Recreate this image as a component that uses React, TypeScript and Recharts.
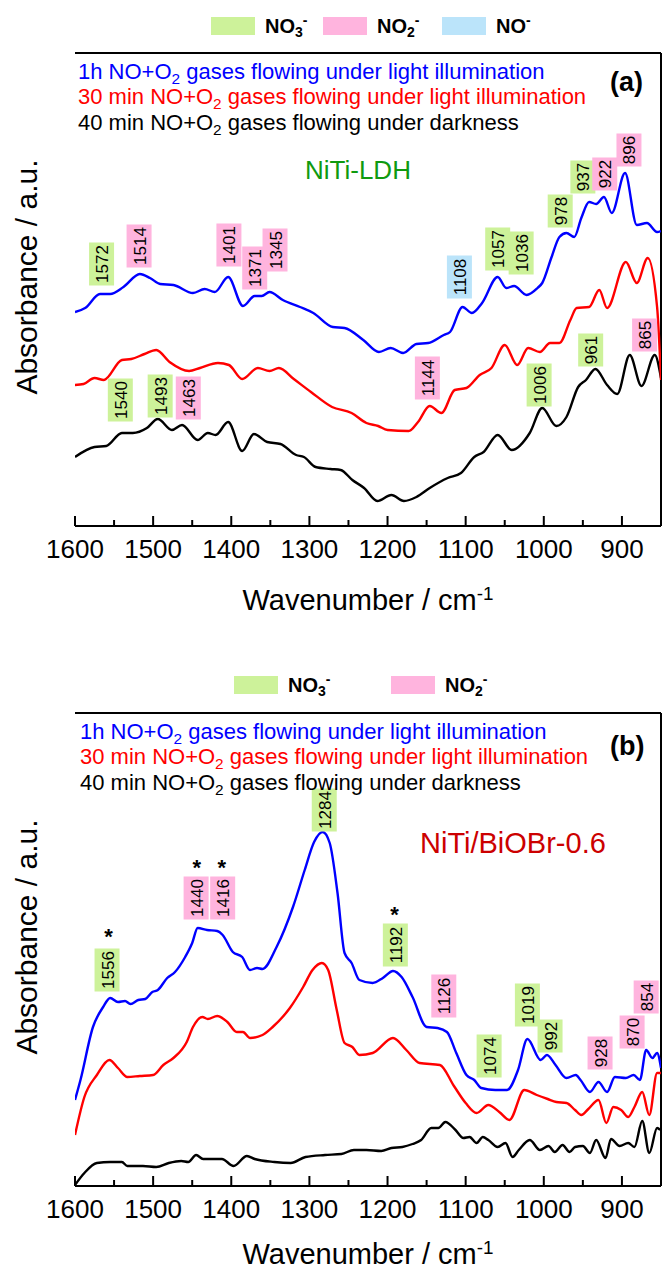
import { ComposedChart, Line, Scatter, XAxis, YAxis, ReferenceLine } from 'recharts'

const FONT = '"Liberation Sans", Arial, Helvetica, sans-serif'

// x axis ticks (major every 100, minor every 50)
const xTicks = [1600, 1550, 1500, 1450, 1400, 1350, 1300, 1250, 1200, 1150, 1100, 1050, 1000, 950, 900, 850]

// panel (a) NiTi-LDH spectra: [wavenumber, absorbance a.u.]
const aBlue = [
  [1600, 214], [1587, 218], [1568, 232], [1555, 232], [1538, 239], [1517, 252], [1504, 248], [1491, 242],
  [1474, 241], [1449, 233], [1434, 237], [1421, 234], [1404, 249], [1385, 220], [1370, 230], [1361, 230],
  [1351, 234], [1334, 226], [1312, 219], [1295, 213], [1270, 199], [1255, 198], [1231, 186], [1211, 174],
  [1196, 178], [1180, 173], [1163, 182], [1148, 183], [1128, 191], [1120, 194], [1104, 219], [1092, 213],
  [1079, 223], [1059, 249], [1048, 238], [1038, 240], [1022, 231], [1008, 238], [1002, 243], [990, 269],
  [980, 289], [971, 293], [961, 289], [952, 308], [942, 324], [933, 322], [923, 329], [913, 313],
  [896, 353], [881, 301], [868, 303], [855, 294], [850, 295],
]
const aRed = [
  [1600, 141], [1589, 142], [1575, 148], [1563, 146], [1540, 166], [1528, 167], [1511, 172], [1496, 176],
  [1479, 164], [1454, 155], [1440, 158], [1417, 163], [1403, 161], [1386, 147], [1366, 158], [1351, 155],
  [1339, 158], [1320, 147], [1298, 134], [1271, 119], [1246, 113], [1227, 103], [1212, 100], [1200, 96],
  [1173, 95], [1161, 104], [1146, 120], [1131, 113], [1114, 136], [1099, 138], [1082, 151], [1067, 158],
  [1050, 181], [1034, 161], [1020, 178], [1005, 174], [992, 183], [980, 183], [966, 206], [958, 218],
  [942, 219], [929, 236], [919, 218], [895, 264], [881, 243], [867, 268], [855, 219], [850, 146],
]
const aBlack = [
  [1600, 69], [1575, 79], [1560, 80], [1540, 93], [1526, 93], [1508, 98], [1494, 107], [1476, 96],
  [1463, 101], [1443, 86], [1430, 93], [1420, 91], [1404, 104], [1386, 75], [1371, 92], [1354, 84],
  [1337, 82], [1317, 71], [1307, 69], [1292, 59], [1273, 57], [1260, 56], [1245, 46], [1230, 38],
  [1213, 25], [1195, 31], [1179, 25], [1163, 29], [1146, 38], [1123, 48], [1106, 53], [1089, 69],
  [1077, 74], [1059, 91], [1041, 76], [1018, 93], [1002, 118], [984, 100], [971, 109], [956, 139],
  [946, 146], [934, 157], [919, 141], [906, 132], [890, 171], [875, 140], [858, 171], [850, 148],
]

// panel (b) NiTi/BiOBr-0.6 spectra
const bBlue = [
  [1600, 86], [1593, 106], [1577, 159], [1564, 179], [1555, 188], [1545, 184], [1536, 185], [1529, 182],
  [1519, 186], [1510, 187], [1501, 194], [1494, 196], [1482, 208], [1472, 214], [1459, 229], [1450, 243],
  [1443, 258], [1431, 256], [1418, 255], [1411, 251], [1398, 234], [1386, 229], [1376, 216], [1367, 218],
  [1360, 217], [1342, 239], [1321, 279], [1306, 316], [1294, 344], [1283, 354], [1274, 343], [1264, 293],
  [1255, 233], [1246, 223], [1236, 206], [1219, 203], [1206, 208], [1193, 215], [1182, 209], [1168, 189],
  [1150, 159], [1136, 158], [1124, 154], [1112, 133], [1099, 111], [1089, 106], [1080, 98], [1062, 96],
  [1047, 96], [1033, 116], [1021, 147], [1004, 126], [996, 131], [985, 121], [971, 108], [959, 111],
  [953, 106], [941, 94], [930, 104], [919, 94], [909, 109], [895, 108], [885, 111], [877, 106],
  [869, 136], [861, 128], [855, 133], [850, 118],
]
const bRed = [
  [1600, 51], [1588, 89], [1572, 111], [1556, 126], [1545, 118], [1533, 109], [1517, 110], [1500, 111],
  [1487, 121], [1474, 128], [1457, 144], [1449, 159], [1437, 169], [1430, 167], [1418, 170], [1405, 164],
  [1393, 154], [1385, 154], [1376, 148], [1360, 151], [1347, 159], [1325, 178], [1308, 199], [1296, 216],
  [1284, 223], [1276, 216], [1265, 176], [1255, 143], [1245, 139], [1236, 131], [1219, 133], [1193, 148],
  [1176, 136], [1159, 123], [1133, 121], [1115, 100], [1100, 83], [1086, 73], [1071, 81], [1057, 74],
  [1044, 66], [1025, 96], [1009, 91], [995, 87], [984, 84], [971, 83], [960, 76], [952, 71],
  [943, 77], [930, 86], [920, 63], [911, 79], [901, 76], [892, 69], [884, 79], [874, 94],
  [865, 71], [855, 113], [850, 113],
]
const bBlack = [
  [1600, 1], [1588, 13], [1572, 23], [1555, 24], [1540, 24], [1533, 20], [1513, 20], [1496, 19],
  [1480, 23], [1464, 25], [1455, 24], [1445, 31], [1436, 27], [1412, 27], [1397, 20], [1380, 30],
  [1370, 27], [1345, 24], [1324, 23], [1305, 29], [1280, 31], [1259, 32], [1243, 36], [1227, 36],
  [1208, 35], [1195, 38], [1181, 39], [1168, 42], [1157, 46], [1144, 58], [1135, 58], [1126, 64],
  [1113, 56], [1103, 48], [1095, 49], [1086, 43], [1078, 49], [1071, 46], [1059, 39], [1049, 43],
  [1040, 29], [1032, 36], [1018, 46], [1005, 36], [994, 40], [986, 34], [976, 41], [967, 34],
  [960, 39], [950, 40], [941, 33], [933, 46], [921, 28], [914, 47], [903, 40], [892, 43],
  [884, 39], [874, 65], [865, 33], [855, 58], [851, 56],
]

// peak assignment boxes: [wavenumber, a.u., label, species]
const aLabels = [
  [1566, 262, '1572', 'n3'], [1518, 280, '1514', 'n2'], [1403, 281, '1401', 'n2'], [1370, 258, '1371', 'n2'],
  [1344, 276, '1345', 'n2'], [1108, 249, '1108', 'no'], [1059, 277, '1057', 'n3'], [1029, 273, '1036', 'n3'],
  [979, 315, '978', 'n3'], [950, 349, '937', 'n3'], [922, 352, '922', 'n2'], [891, 376, '896', 'n2'],
  [1542, 126, '1540', 'n3'], [1491, 130, '1493', 'n3'], [1455, 128, '1463', 'n2'], [1149, 148, '1144', 'n2'],
  [1006, 141, '1006', 'n3'], [940, 176, '961', 'n3'], [871, 191, '865', 'n2'],
]
const bLabels = [
  [1559, 216, '1556', 'n3'], [1445, 288, '1440', 'n2'], [1411, 288, '1416', 'n2'], [1281, 376, '1284', 'n3'],
  [1190, 241, '1192', 'n3'], [1128, 190, '1126', 'n2'], [1070, 130, '1074', 'n3'], [1021, 181, '1019', 'n3'],
  [992, 150, '992', 'n3'], [928, 133, '928', 'n2'], [887, 154, '870', 'n2'], [869, 189, '854', 'n2'],
]
const bStars = [[1557, 255], [1444, 324], [1412, 324], [1191, 277]]

const BOX: Record<string, string> = { n3: '#cdf29a', n2: '#ffb4de', no: '#bbe4fa' }

const toPts = (arr: number[][]) => arr.map(([w, v]) => ({ w, v }))
const toLabels = (arr: any[][]) => arr.map(([w, v, t, k]) => ({ w, v, t, k }))

function XTick(props: any) {
  const { x, y, payload } = props
  const major = payload.value % 100 === 0
  return (
    <g>
      <line x1={x} x2={x} y1={y} y2={y - (major ? 10 : 6)} stroke="#000" strokeWidth={2} />
      {major && payload.value !== 850 && (
        <text x={x} y={y + 32} textAnchor="middle" fontSize={26} fill="#000">{payload.value}</text>
      )}
    </g>
  )
}

function LabelBox(props: any) {
  const { cx, cy, payload } = props
  const t = String(payload.t)
  const h = t.length === 4 ? 43 : 33
  const w = 25
  return (
    <g>
      <rect x={cx - w / 2} y={cy - h / 2} width={w} height={h} fill={BOX[payload.k]} />
      <text transform={`translate(${cx + 6.5},${cy}) rotate(-90)`} textAnchor="middle" fontSize={17} fill="#000">{t}</text>
    </g>
  )
}

function Star(props: any) {
  const { cx, cy } = props
  return <text x={cx} y={cy + 13} textAnchor="middle" fontSize={22} fontWeight="bold" fill="#000">*</text>
}

function Panel({ top, height, plotTop, plotBottom, blue, red, black, labels, stars }: any) {
  return (
    <div style={{ position: 'absolute', left: 0, top }}>
      <ComposedChart
        width={662}
        height={height}
        margin={{ top: plotTop - top, right: 1, left: 75, bottom: top + height - plotBottom - 40 }}
      >
        <XAxis
          dataKey="w" type="number" domain={[850, 1600]} reversed allowDataOverflow
          ticks={xTicks} interval={0} tickSize={0} tickMargin={0} tickLine={false}
          tick={XTick} height={40} axisLine={{ stroke: '#000', strokeWidth: 2 }}
        />
        <YAxis
          dataKey="v" type="number" domain={[0, 473]} allowDataOverflow width={0}
          tick={false} tickLine={false} axisLine={{ stroke: '#000', strokeWidth: 2 }}
        />
        <ReferenceLine y={473} stroke="#000" strokeWidth={2} />
        <ReferenceLine x={850} stroke="#000" strokeWidth={2} />
        <Line data={toPts(black)} dataKey="v" type="monotone" stroke="#000000" strokeWidth={2.4} dot={false} isAnimationActive={false} />
        <Line data={toPts(red)} dataKey="v" type="monotone" stroke="#ff0000" strokeWidth={2.4} dot={false} isAnimationActive={false} />
        <Line data={toPts(blue)} dataKey="v" type="monotone" stroke="#0000ff" strokeWidth={2.4} dot={false} isAnimationActive={false} />
        <Scatter data={toLabels(labels)} dataKey="v" shape={LabelBox} isAnimationActive={false} />
        {stars && <Scatter data={toPts(stars)} dataKey="v" shape={Star} isAnimationActive={false} />}
      </ComposedChart>
    </div>
  )
}

function Sub({ children }: any) {
  return <tspan baselineShift="-30%" fontSize="70%">{children}</tspan>
}

function Conditions({ x, y }: { x: number; y: number }) {
  return (
    <g fontSize={22}>
      <text x={x} y={y} fill="#0000ff">1h NO+O<Sub>2</Sub> gases flowing under light illumination</text>
      <text x={x} y={y + 25} fill="#ff0000">30 min NO+O<Sub>2</Sub> gases flowing under light illumination</text>
      <text x={x} y={y + 51} fill="#000">40 min NO+O<Sub>2</Sub> gases flowing under darkness</text>
    </g>
  )
}

function Species({ x, y, sub, color }: any) {
  return (
    <g>
      <rect x={x} y={y - 16} width={44} height={18} fill={color} />
      <text x={x + 54} y={y} fontSize={20} fontWeight="bold" fill="#000">
        NO{sub && <tspan baselineShift="-30%" fontSize="70%">{sub}</tspan>}
        <tspan baselineShift="60%" fontSize="70%">-</tspan>
      </text>
    </g>
  )
}

export default function App() {
  return (
    <div style={{ position: 'relative', width: 662, height: 1274, fontFamily: FONT, background: '#fff' }}>
      <style>{'body{margin:0}'}</style>
      <Panel top={0} height={640} plotTop={53} plotBottom={526} blue={aBlue} red={aRed} black={aBlack} labels={aLabels} />
      <Panel top={640} height={634} plotTop={713} plotBottom={1186} blue={bBlue} red={bRed} black={bBlack} labels={bLabels} stars={bStars} />
      <svg width={662} height={1274} style={{ position: 'absolute', left: 0, top: 0, pointerEvents: 'none' }}>
        {/* panel (a) */}
        <Species x={211} y={33} sub="3" color={BOX.n3} />
        <Species x={323} y={33} sub="2" color={BOX.n2} />
        <Species x={442} y={33} color={BOX.no} />
        <Conditions x={78} y={79} />
        <text x={610} y={91} fontSize={27} fontWeight="bold">(a)</text>
        <text x={305} y={179} fontSize={26} fill="#0f9a0f">NiTi-LDH</text>
        <text x={368} y={610} fontSize={29} textAnchor="middle">Wavenumber / cm<tspan baselineShift="super" fontSize="65%">-1</tspan></text>
        <text transform="translate(37,277) rotate(-90)" fontSize={30} textAnchor="middle">Absorbance / a.u.</text>

        {/* panel (b) */}
        <Species x={234} y={692} sub="3" color={BOX.n3} />
        <Species x={391} y={692} sub="2" color={BOX.n2} />
        <Conditions x={80} y={739} />
        <text x={610} y={755} fontSize={27} fontWeight="bold">(b)</text>
        <text x={420} y={853} fontSize={29} fill="#cc0000">NiTi/BiOBr-0.6</text>
        <text x={368} y={1264} fontSize={29} textAnchor="middle">Wavenumber / cm<tspan baselineShift="super" fontSize="65%">-1</tspan></text>
        <text transform="translate(37,937) rotate(-90)" fontSize={30} textAnchor="middle">Absorbance / a.u.</text>
      </svg>
    </div>
  )
}
